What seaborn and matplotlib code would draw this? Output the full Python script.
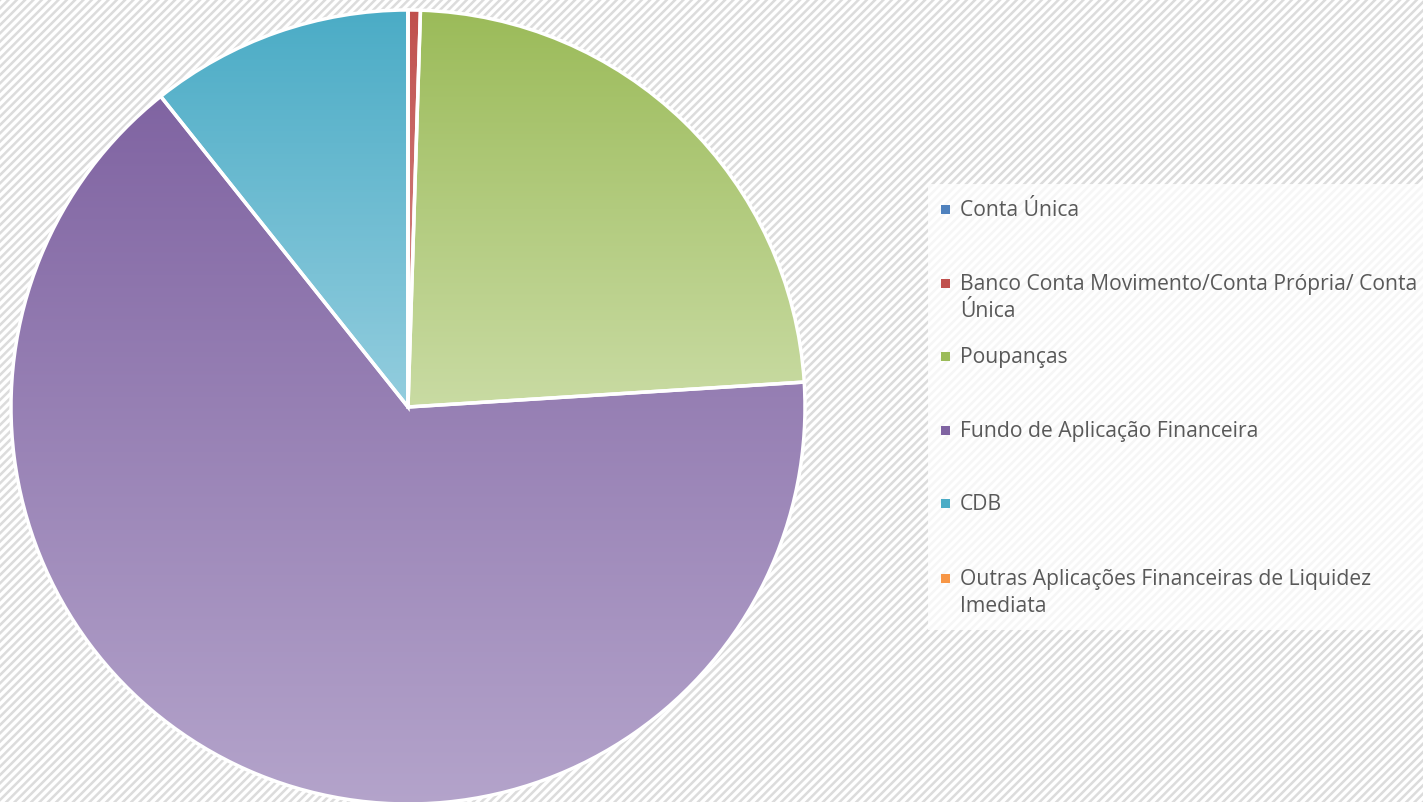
import numpy as np
import matplotlib
matplotlib.use("Agg")
import matplotlib.pyplot as plt
import seaborn as sns
from matplotlib.colors import LinearSegmentedColormap, to_rgb
from matplotlib.patches import Rectangle

# Data (percent shares)
labels = [
    "Conta Única",
    "Banco Conta Movimento/Conta Própria/ Conta\nÚnica",
    "Poupanças",
    "Fundo de Aplicação Financeira",
    "CDB",
    "Outras Aplicações Financeiras de Liquidez\nImediata",
]
values = [0.0, 0.5, 23.5, 65.3, 10.7, 0.0]

# top colour / bottom colour of each wedge gradient
top_colors = ["#4F81BD", "#C0504D", "#9BBB59", "#8064A2", "#4BACC6", "#F79646"]
bottom_colors = ["#95B3D7", "#D99694", "#C9DBA3", "#B4A4CB", "#93CDDE", "#FAC090"]

sns.set_theme(style="white")
plt.rcParams["font.family"] = ["Open Sans", "DejaVu Sans"]
plt.rcParams["hatch.color"] = "#dcdcdc"
plt.rcParams["hatch.linewidth"] = 1.8

W, H = 1423, 803
fig = plt.figure(figsize=(W / 100, H / 100), dpi=100)
fig.patch.set_facecolor("white")

# hatched background
bg = fig.add_axes([0, 0, 1, 1])
bg.set_axis_off()
bg.add_patch(Rectangle((0, 0), 1, 1, transform=bg.transAxes, facecolor="white",
                       edgecolor="#dcdcdc", hatch="////", linewidth=0))

# pie axes: centre (408, 408) px, radius 397 px
cx, cy, r = 408, 408, 397
ax = fig.add_axes([(cx - r) / W, (H - cy - r) / H, 2 * r / W, 2 * r / H])
ax.set_axis_off()
wedges, _ = ax.pie(values, startangle=90, counterclock=False, radius=1,
                   wedgeprops=dict(facecolor="none", edgecolor="white", linewidth=2.5))

# vertical gradient inside every wedge
for w, v, c_top, c_bot in zip(wedges, values, top_colors, bottom_colors):
    if v <= 0:
        continue
    verts = w.get_path().vertices
    xs, ys = verts[:, 0], verts[:, 1]
    cmap = LinearSegmentedColormap.from_list("g", [to_rgb(c_bot), to_rgb(c_top)])
    grad = np.linspace(0, 1, 256).reshape(-1, 1)
    im = ax.imshow(grad, cmap=cmap, origin="lower", aspect="auto",
                   extent=[xs.min(), xs.max(), ys.min(), ys.max()], zorder=0.5)
    im.set_clip_path(w)
    w.set_zorder(1)

ax.set_xlim(-1.0, 1.0)
ax.set_ylim(-1.0, 1.0)
ax.set_aspect("equal")

# legend panel
leg = fig.add_axes([0, 0, 1, 1], facecolor="none")
leg.set_axis_off()
leg.set_xlim(0, W)
leg.set_ylim(H, 0)
leg.add_patch(Rectangle((928, 185), W - 928, 446, facecolor="white", alpha=0.75,
                        edgecolor="none"))
row_y = [210, 284, 357, 431, 504, 579]
for lab, c_top, y in zip(labels, top_colors, row_y):
    leg.add_patch(Rectangle((941, y - 4), 9, 9, facecolor=c_top, edgecolor="none"))
    leg.text(960, y - 10, lab, fontsize=15.2, color="#595959", va="top", ha="left",
             linespacing=1.4)

fig.savefig("out.png", dpi=100)
